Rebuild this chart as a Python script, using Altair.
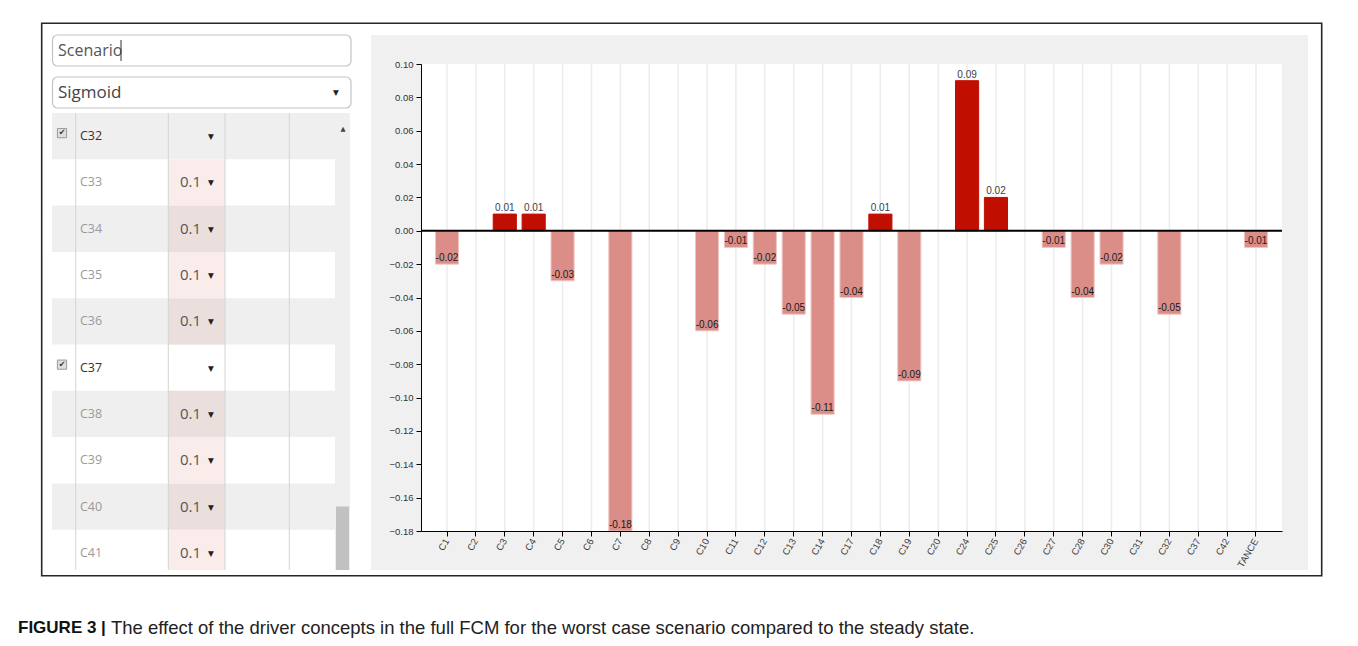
import altair as alt
import pandas as pd

# ---------------- data ----------------
categories = ["C1", "C2", "C3", "C4", "C5", "C6", "C7", "C8", "C9", "C10", "C11", "C12",
              "C13", "C14", "C17", "C18", "C19", "C20", "C24", "C25", "C26", "C27", "C28",
              "C30", "C31", "C32", "C37", "C42", "TANCE"]
effects = [-0.02, 0.0, 0.01, 0.01, -0.03, 0.0, -0.18, 0.0, 0.0, -0.06, -0.01, -0.02,
           -0.05, -0.11, -0.04, 0.01, -0.09, 0.0, 0.09, 0.02, 0.0, -0.01, -0.04,
           -0.02, 0.0, -0.05, 0.0, 0.0, -0.01]
y_ticks = [-0.18, -0.16, -0.14, -0.12, -0.10, -0.08, -0.06, -0.04, -0.02,
           0.0, 0.02, 0.04, 0.06, 0.08, 0.10]

row_names = ["C32", "C33", "C34", "C35", "C36", "C37", "C38", "C39", "C40", "C41"]
row_values = ["", "0.1", "0.1", "0.1", "0.1", "", "0.1", "0.1", "0.1", "0.1"]
row_checked = [True, False, False, False, False, True, False, False, False, False]

scenario_text = "Scenario"
function_text = "Sigmoid"
caption_bold = "FIGURE 3 |"
caption_text = ("The effect of the driver concepts in the full FCM for the worst case "
                "scenario compared to the steady state.")

# ---------------- bar chart (right) ----------------
W, H = 861, 467
bars = pd.DataFrame({"concept": categories, "effect": effects})
bars["label"] = [f"{v:.2f}" for v in effects]
pos = bars[bars["effect"] > 0]
neg = bars[bars["effect"] < 0]

x_axis = alt.Axis(title=None, labelAngle=-60, labelFont="Liberation Sans", labelFontSize=9.5,
                  labelColor="#3a3a3a", domainColor="#000", domainWidth=1, tickColor="#000",
                  tickSize=5, grid=False, zindex=1, labelPadding=3)
y_axis = alt.Axis(title=None, values=y_ticks, format=".2f", labelFont="Liberation Sans",
                  labelFontSize=9.5, labelColor="#333", domainColor="#000", domainWidth=1,
                  tickColor="#000", tickSize=5, grid=False, zindex=1, labelPadding=3)
xs = alt.Scale(domain=categories, paddingInner=0.2, paddingOuter=0.5)
ys = alt.Scale(domain=[-0.18, 0.10], nice=False, zero=False)
X = alt.X("concept:N", sort=categories, scale=xs, axis=x_axis)
Y = alt.Y("effect:Q", scale=ys, axis=y_axis)

one = alt.Data(values=[{"k": 1}])
panel_bg = alt.Chart(one).mark_rect(color="#f0f0f0").encode(
    x=alt.value(-50), x2=alt.value(W + 26), y=alt.value(-29), y2=alt.value(H + 39))
plot_bg = alt.Chart(one).mark_rect(color="#ffffff").encode(
    x=alt.value(0), x2=alt.value(W), y=alt.value(0), y2=alt.value(H))
grid = alt.Chart(bars).mark_rule(color="#ececec", strokeWidth=1.5).encode(x=X)
pos_bars = alt.Chart(pos).mark_bar(color="#c00f00", stroke="#c00f00", strokeWidth=1).encode(
    x=X, y=Y, y2=alt.Y2(datum=0))
neg_bars = alt.Chart(neg).mark_bar(color="#db8d88", stroke="#efc6c2", strokeWidth=1).encode(
    x=X, y=Y, y2=alt.Y2(datum=0))
zero_line = alt.Chart(pd.DataFrame({"effect": [0.0]})).mark_rule(
    color="#000", strokeWidth=2).encode(y=Y)
pos_labels = alt.Chart(pos).mark_text(
    baseline="bottom", dy=-1, font="Liberation Sans", fontSize=10, color="#3c3c4c").encode(
    x=X, y=Y, text="label:N")
neg_labels = alt.Chart(neg).mark_text(
    baseline="alphabetic", dy=-3, font="Liberation Sans", fontSize=10, color="#1a1a1a").encode(
    x=X, y=Y, text="label:N")

right = alt.layer(panel_bg, plot_bg, grid, neg_bars, pos_bars, zero_line, pos_labels,
                  neg_labels).properties(width=W, height=H)

# ---------------- UI panel (left), in picture pixel units ----------------
LW, LH = 298, 467
lxs = alt.Scale(domain=[52, 52 + LW], nice=False, zero=False)
lys = alt.Scale(domain=[64, 64 + LH], nice=False, zero=False, reverse=True)
LX = lambda f: alt.X(f"{f}:Q", scale=lxs, axis=None)
LY = lambda f: alt.Y(f"{f}:Q", scale=lys, axis=None)

def rects(df, **mark):
    return alt.Chart(df).mark_rect(**mark).encode(
        x=LX("x"), x2=alt.X2("x2"), y=LY("y"), y2=alt.Y2("y2"))

def texts(df, **mark):
    return alt.Chart(df).mark_text(**mark).encode(x=LX("x"), y=LY("y"), text="t:N")

page = rects(pd.DataFrame([{"x": 8, "x2": 1350, "y": 8, "y2": 638}]), color="#ffffff")
frame = rects(pd.DataFrame([{"x": 41.7, "x2": 1321.7, "y": 23.3, "y2": 575.7}]),
              fill="transparent", stroke="#262626", strokeWidth=1.6)
boxes = rects(pd.DataFrame([{"x": 52.5, "x2": 351, "y": 35, "y2": 66},
                            {"x": 52.5, "x2": 351, "y": 77, "y2": 108}]),
              fill="#ffffff", stroke="#c4c4c4", strokeWidth=1.2, cornerRadius=5)
box_text = texts(pd.DataFrame([{"x": 58, "y": 50.5, "t": scenario_text}]),
                 align="left", baseline="middle", font="Open Sans", fontSize=16, color="#555")
box_text2 = texts(pd.DataFrame([{"x": 58, "y": 93, "t": function_text}]),
                  align="left", baseline="middle", font="Open Sans", fontSize=17, color="#444")
cursor = alt.Chart(pd.DataFrame([{"x": 121, "y": 40, "y2": 61}])).mark_rule(
    color="#333", strokeWidth=1).encode(x=LX("x"), y=LY("y"), y2=alt.Y2("y2"))
sel_caret = texts(pd.DataFrame([{"x": 336, "y": 93, "t": "▼"}]),
                  font="DejaVu Sans", fontSize=7.5, color="#222", baseline="middle")

TOP, RH, BOTTOM = 113, 46.3, 570
rows = []
for i, (n, v, c) in enumerate(zip(row_names, row_values, row_checked)):
    top = TOP + i * RH
    rows.append({"i": i, "name": n, "val": v, "chk": c, "top": top,
                 "bot": min(top + RH, BOTTOM), "mid": top + RH / 2, "gray": i % 2 == 0})
rdf = pd.DataFrame(rows)

gray_rows = rects(pd.DataFrame([{"x": 52, "x2": 350, "y": r.top, "y2": r.bot}
                                for r in rdf.itertuples() if r.gray]), color="#efefef")
track = rects(pd.DataFrame([{"x": 335, "x2": 350, "y": TOP, "y2": BOTTOM}]), color="#efefef")
thumb = rects(pd.DataFrame([{"x": 336, "x2": 349, "y": 506.5, "y2": BOTTOM}]), color="#c1c1c1")
pink_g = rects(pd.DataFrame([{"x": 168.3, "x2": 225, "y": r.top, "y2": r.bot}
                             for r in rdf.itertuples() if r.val and r.gray]), color="#eadfdd")
pink_w = rects(pd.DataFrame([{"x": 168.3, "x2": 225, "y": r.top, "y2": r.bot}
                             for r in rdf.itertuples() if r.val and not r.gray]), color="#f9eceb")
col_lines = alt.Chart(pd.DataFrame([{"x": cx, "y": TOP, "y2": BOTTOM}
                                    for cx in [75.7, 168.3, 225, 289.3]])).mark_rule(
    color="#d4d4d4", strokeWidth=1).encode(x=LX("x"), y=LY("y"), y2=alt.Y2("y2"))
name_on = texts(pd.DataFrame([{"x": 80, "y": r.mid, "t": r.name}
                              for r in rdf.itertuples() if r.chk]),
                align="left", baseline="middle", font="Open Sans", fontSize=12.5, color="#333")
name_off = texts(pd.DataFrame([{"x": 80, "y": r.mid, "t": r.name}
                               for r in rdf.itertuples() if not r.chk]),
                 align="left", baseline="middle", font="Open Sans", fontSize=12.5, color="#9a9a9a")
val_text = texts(pd.DataFrame([{"x": 180, "y": r.mid, "t": r.val}
                               for r in rdf.itertuples() if r.val]),
                 align="left", baseline="middle", font="Open Sans", fontSize=15, color="#555")
carets = texts(pd.DataFrame([{"x": 211, "y": r.mid + 1, "t": "▼"} for r in rdf.itertuples()]),
               font="DejaVu Sans", fontSize=7.5, color="#222", baseline="middle")
chk = pd.DataFrame([{"x": 62, "y": r.mid - 3, "t": "✔"} for r in rdf.itertuples() if r.chk])
chk_box = alt.Chart(chk).mark_square(size=85, fill="#dedede", stroke="#9a9a9a",
                                     strokeWidth=1, opacity=1).encode(x=LX("x"), y=LY("y"))
chk_mark = texts(chk, font="DejaVu Sans", fontSize=8, color="#333", baseline="middle")
up_arrow = texts(pd.DataFrame([{"x": 343, "y": 129, "t": "▲"}]),
                 font="DejaVu Sans", fontSize=6.5, color="#444", baseline="middle")

cap1 = texts(pd.DataFrame([{"x": 18, "y": 628, "t": caption_bold}]),
             align="left", baseline="middle", font="Liberation Sans", fontSize=17,
             fontWeight="bold", color="#111")
cap2 = texts(pd.DataFrame([{"x": 111, "y": 628, "t": caption_text}]),
             align="left", baseline="middle", font="Liberation Sans", fontSize=18.5, color="#222")

left = alt.layer(page, frame, boxes, box_text, box_text2, cursor, sel_caret, gray_rows, track,
                 thumb, pink_g, pink_w, col_lines, name_on, name_off, val_text, carets,
                 chk_box, chk_mark, up_arrow, cap1, cap2).properties(width=LW, height=LH)

chart = alt.hconcat(left, right, spacing=71, bounds="flush").properties(
    padding=0).configure_view(strokeWidth=0)

chart.save("out.html", embed_options={"renderer": "svg", "actions": False})
